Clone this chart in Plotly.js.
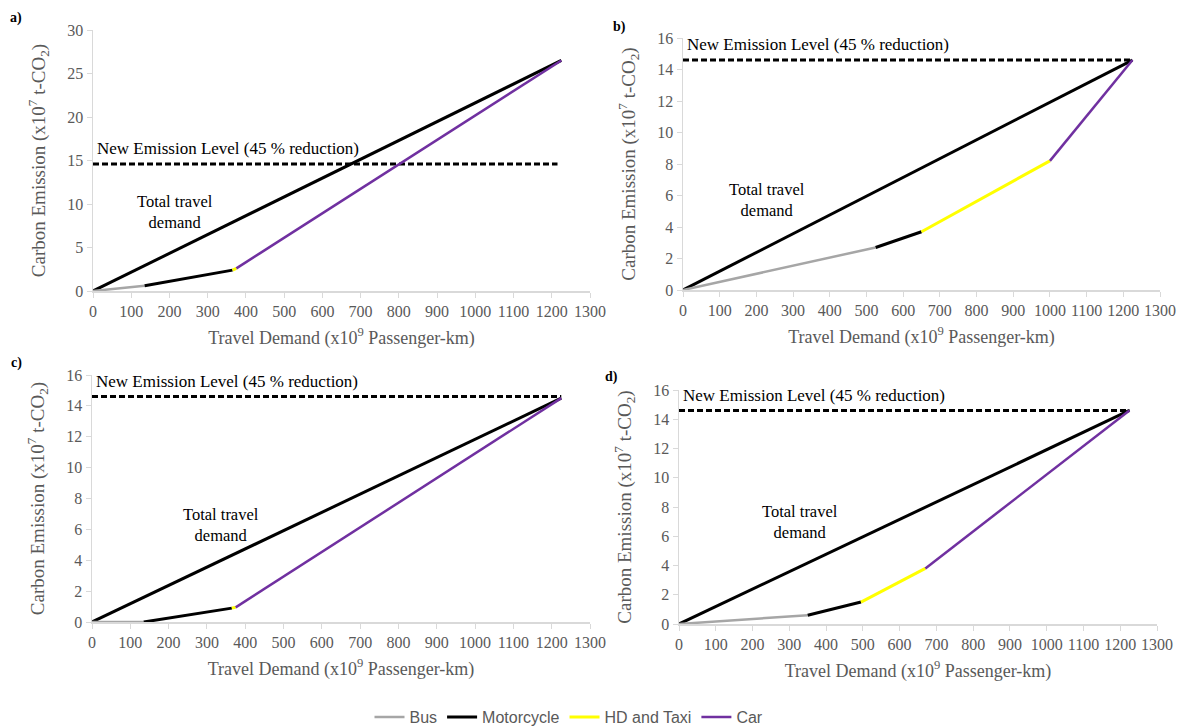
<!DOCTYPE html>
<html>
<head>
<meta charset="utf-8">
<script src="https://cdn.plot.ly/plotly-3.0.1.min.js"></script>
<style>html,body{margin:0;padding:0;background:#fff;}#chart{width:1182px;height:728px;}</style>
</head>
<body>
<div id="chart"></div>
<script>
// Series names
const modes = ['Bus', 'Motorcycle', 'HD and Taxi', 'Car'];
const panelLabels = ['a)', 'b)', 'c)', 'd)'];

// Cumulative breakpoints (x: travel demand x10^9 pkm, y: emission x10^7 t-CO2)
// segment i runs from point i to point i+1 -> Bus, Motorcycle, HD and Taxi, Car
const breakX_a = [0, 135, 365, 375, 1225];
const breakY_a = [0, 0.6, 2.4, 2.6, 26.5];
const breakX_b = [0, 525, 650, 1000, 1225];
const breakY_b = [0, 2.7, 3.7, 8.2, 14.6];
const breakX_c = [0, 135, 365, 375, 1225];
const breakY_c = [0, 0.0, 0.9, 0.95, 14.5];
const breakX_d = [0, 350, 495, 670, 1225];
const breakY_d = [0, 0.6, 1.5, 3.8, 14.6];

// Total travel demand line
const totalX = [0, 1225];
const totalY_a = [0, 26.5];
const totalY_b = [0, 14.6];
const totalY_c = [0, 14.5];
const totalY_d = [0, 14.6];

// New emission level (45 % reduction)
const newLevel = 14.6;
const newLevelX_a = [0, 1215];
const newLevelX_bcd = [0, 1225];

// Axis settings
const yMax = [30, 16, 16, 16];
const yDtick = [5, 2, 2, 2];

const colors = ['#a6a6a6', '#000000', '#ffff00', '#7030a0'];
const widths = [2.5, 3, 3, 2.5];

const breaks = [[breakX_a, breakY_a], [breakX_b, breakY_b], [breakX_c, breakY_c], [breakX_d, breakY_d]];
const totals = [totalY_a, totalY_b, totalY_c, totalY_d];

const traces = [];
breaks.forEach((bp, p) => {
  const xa = p === 0 ? 'x' : 'x' + (p + 1);
  const ya = p === 0 ? 'y' : 'y' + (p + 1);
  traces.push({x: p === 0 ? newLevelX_a : newLevelX_bcd, y: [newLevel, newLevel], xaxis: xa, yaxis: ya, mode: 'lines',
    line: {color: '#000', width: 3, dash: '6px,3px'}, showlegend: false, hoverinfo: 'skip'});
  traces.push({x: totalX, y: totals[p], xaxis: xa, yaxis: ya, mode: 'lines',
    line: {color: '#000', width: 3}, showlegend: false, hoverinfo: 'skip'});
  for (let i = 0; i < 4; i++) {
    traces.push({x: [bp[0][i], bp[0][i + 1]], y: [bp[1][i], bp[1][i + 1]], xaxis: xa, yaxis: ya,
      mode: 'lines', name: modes[i], legendgroup: modes[i], showlegend: p === 0,
      line: {color: colors[i], width: widths[i]}});
  }
});

const W = 1182, H = 728;
const boxes = [
  {l: 93, r: 590, t: 30, b: 291},
  {l: 683, r: 1160, t: 38, b: 290},
  {l: 92, r: 590, t: 375, b: 622},
  {l: 679, r: 1157, t: 390, b: 624}
];

const serif = 'Liberation Serif';
const tickFont = {family: serif, size: 16, color: '#595959'};
const xTitleFont = {family: serif, size: 18, color: '#595959'};
const yTitleFont = {family: serif, size: 19, color: '#595959'};

const layout = {
  width: W, height: H,
  margin: {l: 0, r: 0, t: 0, b: 0},
  paper_bgcolor: '#fff', plot_bgcolor: '#fff',
  showlegend: true,
  legend: {orientation: 'h', x: 569 / W, xanchor: 'center', y: 0, yanchor: 'bottom',
    font: {family: 'Liberation Sans', size: 16, color: '#595959'},
    itemwidth: 30, tracegroupgap: 0},
  annotations: [],
  font: {family: serif}
};

const textPos = [
  {tx: 215, ty: 9.1, lx: 5},
  {tx: 229, ty: 5.7, lx: 5},
  {tx: 337, ty: 6.3, lx: 5},
  {tx: 329, ty: 7.0, lx: 5}
];
const labelPx = [[16, 18], [619, 27], [16, 363], [611, 377]];

boxes.forEach((b, p) => {
  const sfx = p === 0 ? '' : String(p + 1);
  layout['xaxis' + sfx] = {
    domain: [b.l / W, b.r / W], anchor: 'y' + sfx, range: [0, 1300], dtick: 100, tick0: 0,
    showgrid: false, zeroline: false, showline: true, linecolor: '#d9d9d9', linewidth: 1.5,
    ticks: 'outside', ticklen: 5, tickcolor: '#d9d9d9', tickfont: tickFont,
    title: {text: 'Travel Demand (x10<sup>9</sup> Passenger-km)', font: xTitleFont, standoff: 12}
  };
  layout['yaxis' + sfx] = {
    domain: [1 - b.b / H, 1 - b.t / H], anchor: 'x' + sfx, range: [0, yMax[p]], dtick: yDtick[p], tick0: 0,
    showgrid: false, zeroline: false, showline: true, linecolor: '#d9d9d9', linewidth: 1.5,
    ticks: 'outside', ticklen: 5, tickcolor: '#d9d9d9', tickfont: tickFont,
    title: {text: 'Carbon Emission (x10<sup>7</sup> t-CO<sub>2</sub>)', font: yTitleFont, standoff: 16}
  };
  const xa = 'x' + sfx, ya = 'y' + sfx;
  layout.annotations.push({xref: xa, yref: ya, x: textPos[p].lx, y: newLevel + 0.015 * yMax[p], xanchor: 'left', yanchor: 'bottom',
    text: 'New Emission Level (45 % reduction)', showarrow: false,
    font: {family: serif, size: 17, color: '#000'}});
  layout.annotations.push({xref: xa, yref: ya, x: textPos[p].tx, y: textPos[p].ty, xanchor: 'center', yanchor: 'middle',
    text: 'Total travel<br>demand', showarrow: false,
    font: {family: serif, size: 16.5, color: '#000'}});
  layout.annotations.push({xref: 'paper', yref: 'paper', x: labelPx[p][0] / W, y: 1 - labelPx[p][1] / H,
    xanchor: 'center', yanchor: 'middle', text: '<b>' + panelLabels[p] + '</b>', showarrow: false,
    font: {family: serif, size: 14, color: '#000'}});
});

Plotly.newPlot('chart', traces, layout, {displayModeBar: false, staticPlot: true}).then(() => {
  // nudge the legend a few pixels lower, as in the reference
  const lg = document.querySelector('#chart .legend');
  if (lg) {
    const t = lg.getAttribute('transform') || '';
    const m = t.match(/translate\(\s*([-\d.]+)[ ,]+([-\d.]+)\s*\)/);
    if (m) lg.setAttribute('transform', 'translate(' + m[1] + ',' + (parseFloat(m[2]) + 6) + ')');
  }
});
</script>
</body>
</html>
